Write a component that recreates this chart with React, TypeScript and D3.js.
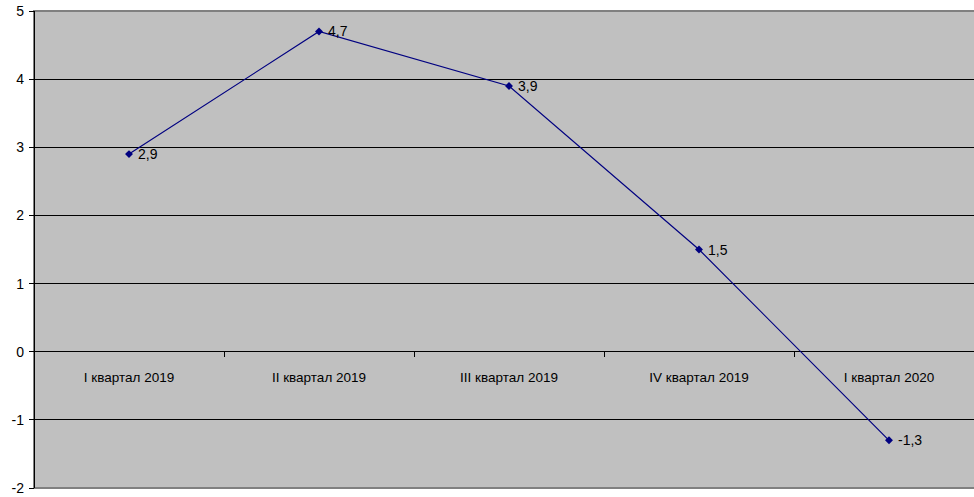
import React from "react";
import * as d3 from "d3";

const categories = [
  "I квартал 2019",
  "II квартал 2019",
  "III квартал 2019",
  "IV квартал 2019",
  "I квартал 2020",
];
const values = [2.9, 4.7, 3.9, 1.5, -1.3];
const yTicks = [-2, -1, 0, 1, 2, 3, 4, 5];

const W = 974;
const H = 497;
const left = 34;
const top = 11;
const bottom = 488;
const plotRight = 984;

const FONT = "Liberation Sans, Arial, sans-serif";

export default function App() {
  const x = d3.scaleBand<string>().domain(categories).range([left, plotRight]);
  const y = d3.scaleLinear().domain([-2, 5]).range([bottom, top]);
  const cx = (c: string) => (x(c) as number) + x.bandwidth() / 2;

  const line = d3
    .line<number>()
    .x((_, i) => cx(categories[i]))
    .y((v) => y(v));

  const diamond = d3.symbol().type(d3.symbolDiamond2).size(40)() as string;
  const fmt = (v: number) => String(v).replace(".", ",");

  return (
    <svg
      width={W}
      height={H}
      style={{ position: "absolute", left: 0, top: 0, background: "#fff" }}
      fontFamily={FONT}
    >
      {/* plot area */}
      <rect x={left} y={top} width={plotRight - left} height={bottom - top} fill="#c0c0c0" />
      {/* horizontal gridlines */}
      {yTicks
        .filter((t) => t !== -2 && t !== 5)
        .map((t) => (
          <line key={t} x1={left} x2={plotRight} y1={y(t)} y2={y(t)} stroke="#000" strokeWidth={1} shapeRendering="crispEdges" />
        ))}
      {/* plot border */}
      <rect x={left} y={top} width={plotRight - left} height={bottom - top} fill="none" stroke="#808080" strokeWidth={2} />
      {/* value axis */}
      <line x1={left} x2={left} y1={top} y2={bottom} stroke="#000" strokeWidth={1} shapeRendering="crispEdges" />
      {yTicks.map((t) => (
        <g key={t}>
          <line x1={left - 5} x2={left} y1={y(t)} y2={y(t)} stroke="#000" shapeRendering="crispEdges" />
          <text x={24} y={y(t)} dy="0.36em" textAnchor="end" fontSize={14} fill="#000">
            {t}
          </text>
        </g>
      ))}
      {/* category ticks on the zero line */}
      {categories.map((c, i) => (
        <line
          key={"t" + i}
          x1={x(c) as number}
          x2={x(c) as number}
          y1={y(0)}
          y2={y(0) + 5}
          stroke="#000"
          shapeRendering="crispEdges"
        />
      ))}
      {categories.map((c) => (
        <text key={c} x={cx(c)} y={382} textAnchor="middle" fontSize={13.5} fill="#000">
          {c}
        </text>
      ))}
      {/* series */}
      <path d={line(values) as string} fill="none" stroke="#000080" strokeWidth={1.2} />
      {values.map((v, i) => (
        <g key={"p" + i}>
          <path d={diamond} transform={`translate(${cx(categories[i])},${y(v)})`} fill="#000080" />
          <text x={cx(categories[i]) + 9} y={y(v)} dy="0.36em" fontSize={14} fill="#000">
            {fmt(v)}
          </text>
        </g>
      ))}
    </svg>
  );
}
